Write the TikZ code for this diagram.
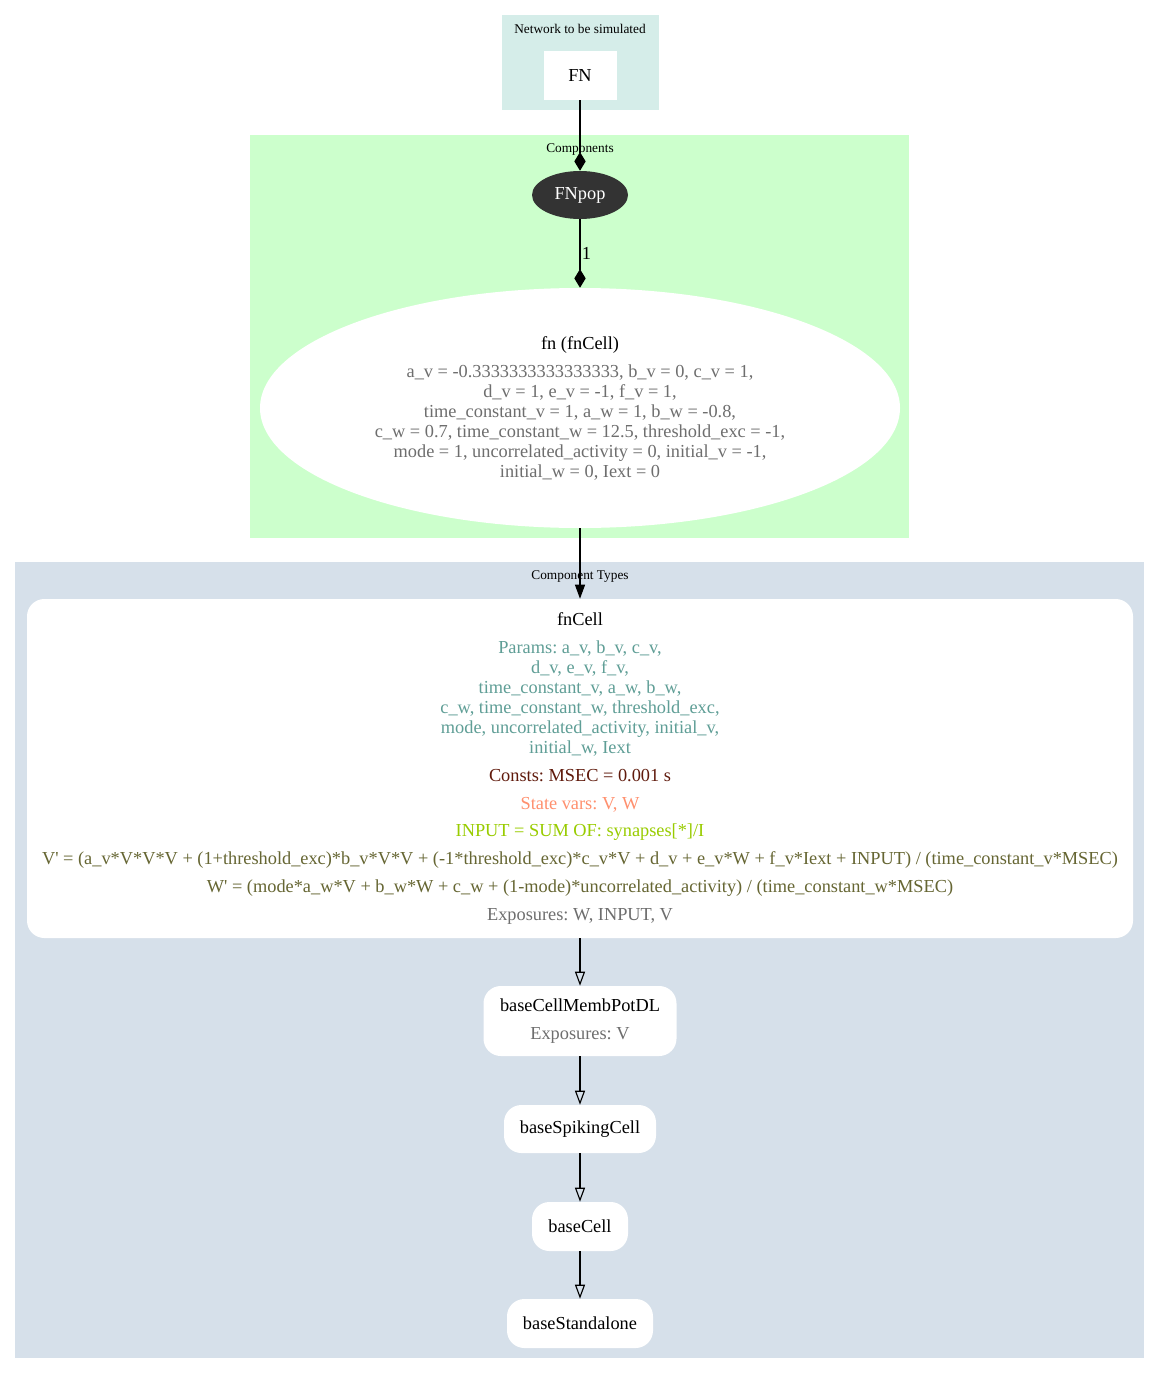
\documentclass[tikz,border=0pt]{standalone}
\usepackage{fontspec}
\setmainfont{Liberation Serif}[Ligatures=TeXOff]
\usetikzlibrary{arrows.meta,shapes.geometric}

\definecolor{netbg}{RGB}{213,237,233}
\definecolor{compbg}{RGB}{204,255,204}
\definecolor{typebg}{RGB}{214,224,234}
\definecolor{popfill}{RGB}{51,51,51}
\definecolor{valgray}{RGB}{110,110,110}
\definecolor{paramcol}{RGB}{95,158,150}
\definecolor{constcol}{RGB}{96,26,12}
\definecolor{statecol}{RGB}{255,144,110}
\definecolor{inputcol}{RGB}{153,204,0}
\definecolor{eqcol}{RGB}{102,102,51}

\begin{document}
\frenchspacing
\begin{tikzpicture}[x=0.75pt,y=-0.75pt,
    font=\fontsize{13.75}{15}\selectfont,
    clusterlabel/.style={font=\fontsize{10}{12}\selectfont},
    plainbox/.style={draw=none,fill=white,inner sep=0pt,align=center},
    typebox/.style={plainbox,rounded corners=13pt},
    link/.style={line width=0.85pt},
    composed/.style={link,-{Diamond[length=14pt,width=8.5pt]}},
    instanceof/.style={link,-{Triangle[length=10.5pt,width=7.5pt]}},
    extends/.style={link,-{Triangle[open,length=10.5pt,width=7.5pt]}}]

            \useasboundingbox (0,0) rectangle (1160,1374);

            % clusters
            \fill[netbg] (502,15) rectangle (659,110);
            \fill[compbg] (250,135) rectangle (909,538);
            \fill[typebg] (15,562) rectangle (1144,1358);

            \node [clusterlabel] (netlabel) at (580,29) {Network to be simulated};
            \node [clusterlabel] (complabel) at (580,149.5) {Components};
            \node [clusterlabel] (typelabel) at (580,576.5) {Component Types};

            % network and components
            \node [plainbox,minimum width=54.75pt,minimum height=36.75pt] (FN) at (580,75.5) {FN};

            \node [ellipse,fill=popfill,text=white,inner sep=0pt,
                   minimum width=72pt,minimum height=36pt] (FNpop) at (580,195) {FNpop};

            \node [ellipse,fill=white,inner sep=0pt,align=center,
                   minimum width=480pt,minimum height=180pt] (fn) at (580,408)
                  {fn (fnCell)\\[6pt]
                   \color{valgray}a\_v = -0.3333333333333333, b\_v = 0, c\_v = 1,\\
                   \color{valgray}d\_v = 1, e\_v = -1, f\_v = 1,\\
                   \color{valgray}time\_constant\_v = 1, a\_w = 1, b\_w = -0.8,\\
                   \color{valgray}c\_w = 0.7, time\_constant\_w = 12.5, threshold\_exc = -1,\\
                   \color{valgray}mode = 1, uncorrelated\_activity = 0, initial\_v = -1,\\
                   \color{valgray}initial\_w = 0, Iext = 0};

            % component types
            \node [typebox,minimum width=829.5pt,minimum height=254.25pt] (fnCell) at (580,768.5)
                  {fnCell\\[6pt]
                   \color{paramcol}Params: a\_v, b\_v, c\_v,\\
                   \color{paramcol}d\_v, e\_v, f\_v,\\
                   \color{paramcol}time\_constant\_v, a\_w, b\_w,\\
                   \color{paramcol}c\_w, time\_constant\_w, threshold\_exc,\\
                   \color{paramcol}mode, uncorrelated\_activity, initial\_v,\\
                   \color{paramcol}initial\_w, Iext\\[6pt]
                   \color{constcol}Consts: MSEC = 0.001 s\\[6pt]
                   \color{statecol}State vars: V, W\\[5.5pt]
                   \color{inputcol}INPUT = SUM OF: synapses[*]/I\\[6pt]
                   \color{eqcol}V' = (a\_v*V*V*V + (1+threshold\_exc)*b\_v*V*V + (-1*threshold\_exc)*c\_v*V + d\_v + e\_v*W + f\_v*Iext + INPUT) / (time\_constant\_v*MSEC)\\[6pt]
                   \color{eqcol}W' = (mode*a\_w*V + b\_w*W + c\_w + (1-mode)*uncorrelated\_activity) / (time\_constant\_w*MSEC)\\[6pt]
                   \color{valgray}Exposures: W, INPUT, V};

            \node [typebox,minimum width=144.75pt,minimum height=52.5pt] (membpot) at (580,1021)
                  {baseCellMembPotDL\\[6pt]\color{valgray}Exposures: V};
            \node [typebox,minimum width=114pt,minimum height=36pt] (spiking) at (580,1129) {baseSpikingCell};
            \node [typebox,minimum width=72pt,minimum height=36.75pt] (basecell) at (580,1226.5) {baseCell};
            \node [typebox,minimum width=109.5pt,minimum height=36.75pt] (standalone) at (580,1323.5) {baseStandalone};

            % connectors
            \draw[composed] (FN) -- (FNpop);
            \draw[composed] (FNpop) -- node [right,inner sep=1pt] {1} (fn);
            \draw[instanceof] (fn) -- (fnCell);
            \draw[extends] (fnCell) -- (membpot);
            \draw[extends] (membpot) -- (spiking);
            \draw[extends] (spiking) -- (basecell);
            \draw[extends] (basecell) -- (standalone);

        \end{tikzpicture}
\end{document}
